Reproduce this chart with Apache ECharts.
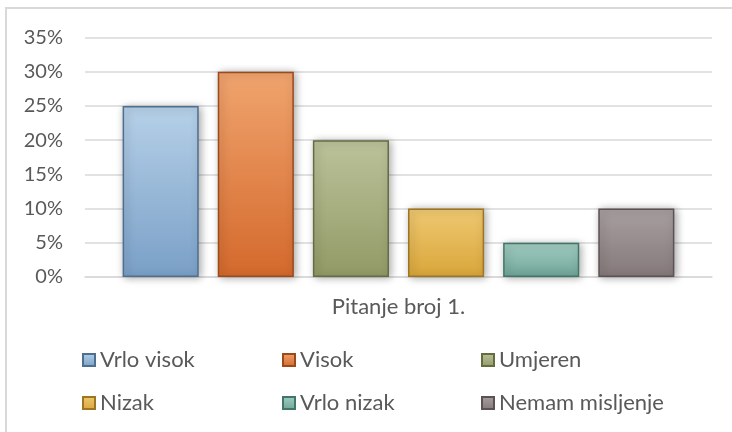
<!DOCTYPE html>
<html>
<head>
<meta charset="utf-8">
<script src="https://cdn.jsdelivr.net/npm/echarts@6/dist/echarts.min.js"></script>
<style>
  html, body { margin: 0; padding: 0; background: #fff; }
  #frame { position: absolute; left: 5px; top: 7px; width: 740px; height: 440px; border-left: 2px solid #d9d9d9; border-top: 2px solid #d9d9d9; }
  #chart { position: absolute; left: 0; top: 0; width: 732px; height: 432px; }
</style>
</head>
<body>
<div id="frame"></div>
<div id="chart"></div>
<script>
// data
var category = ['Pitanje broj 1.'];
var seriesNames = ['Vrlo visok', 'Visok', 'Umjeren', 'Nizak', 'Vrlo nizak', 'Nemam misljenje'];
var seriesValues = [25, 30, 20, 10, 5, 10];
var yTicks = [0, 5, 10, 15, 20, 25, 30, 35];

// top / bottom of each bar gradient, edge colour
var topColors = ['#b6d0e8', '#f0a46e', '#bcc29a', '#efc872', '#a2cdc2', '#a89fa0'];
var bottomColors = ['#7aa0c7', '#d4692c', '#929a66', '#d9a63a', '#6fa597', '#85797a'];
var edgeColors = ['#4e6f90', '#9c4a1c', '#656c42', '#9e7522', '#43766a', '#5c5253'];

var chart = echarts.init(document.getElementById('chart'));
var font = 'Lato, "Open Sans", sans-serif';

var series = seriesNames.map(function (name, i) {
  return {
    name: name,
    type: 'bar',
    data: [seriesValues[i]],
    barGap: '25%',
    barCategoryGap: '12%',
    itemStyle: {
      color: new echarts.graphic.LinearGradient(0, 0, 0, 1, [
        { offset: 0, color: topColors[i] },
        { offset: 1, color: bottomColors[i] }
      ]),
      borderColor: edgeColors[i],
      borderWidth: 1.5,
      shadowColor: 'rgba(0,0,0,0.35)',
      shadowBlur: 8,
      shadowOffsetX: 2,
      shadowOffsetY: 1
    }
  };
});

// one legend per item so the columns line up like the original
var legendX = [82, 282, 481];
var legendY = [348, 391];
var legends = seriesNames.map(function (name, i) {
  return {
    data: [{ name: name, icon: 'rect' }],
    left: legendX[i % 3],
    top: legendY[Math.floor(i / 3)],
    padding: 0,
    itemWidth: 12,
    itemHeight: 12,
    itemGap: 0,
    textStyle: { fontFamily: font, fontSize: 22, lineHeight: 24, color: '#595959' },
    selectedMode: false
  };
});

var option = {
  animation: false,
  grid: { left: 85, right: 20, top: 37.5, bottom: 155 },
  legend: legends,
  xAxis: {
    type: 'category',
    data: category,
    axisLine: { lineStyle: { color: '#d9d9d9', width: 1.5 } },
    axisTick: { show: false },
    axisLabel: { fontFamily: font, fontSize: 22, color: '#595959', margin: 19 }
  },
  yAxis: {
    type: 'value',
    min: 0,
    max: 35,
    interval: 5,
    axisLine: { show: false },
    axisTick: { show: false },
    splitLine: { lineStyle: { color: '#d9d9d9', width: 1.5 } },
    axisLabel: {
      fontFamily: font, fontSize: 20, color: '#595959', margin: 22,
      formatter: function (v) { return yTicks.indexOf(v) >= 0 ? v + '%' : ''; }
    }
  },
  series: series
};

chart.setOption(option);
</script>
</body>
</html>
